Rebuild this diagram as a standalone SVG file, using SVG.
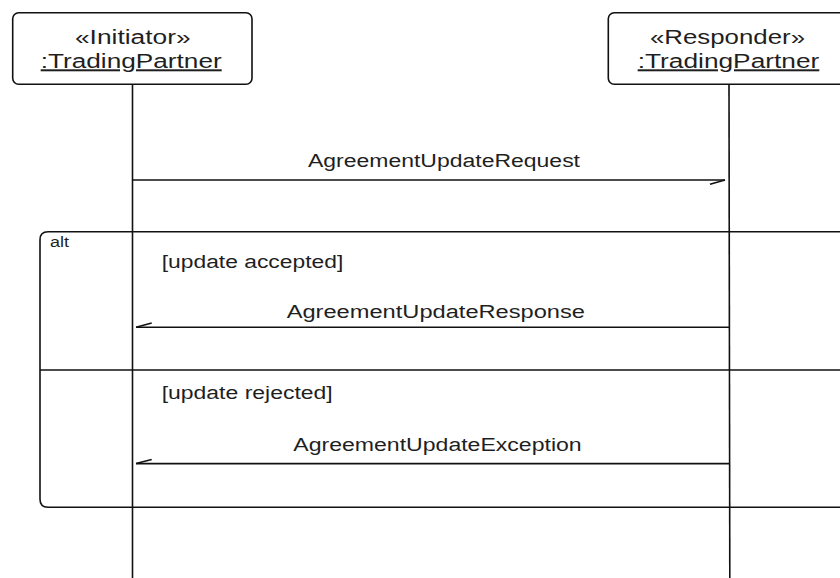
<svg xmlns="http://www.w3.org/2000/svg" width="840" height="578" viewBox="0 0 840 578">
  <style>
    .box { fill: #fff; stroke: #111; stroke-width: 1.6; }
    .life { stroke: #111; stroke-width: 1.6; fill: none; }
    .msg { stroke: #111; stroke-width: 1.6; fill: none; }
    .frame { fill: none; stroke: #111; stroke-width: 1.6; }
    .t { font-family: "Liberation Sans", Arial, sans-serif; fill: #1f1f1f; }
    .head { font-size: 20px; text-anchor: middle; }
    .lbl { font-size: 18px; }
    .small { font-size: 14px; }
  </style>
  <rect width="840" height="578" fill="#fff"/>

  <g id="lifelines">
    <line class="life" x1="132.5" y1="84" x2="132.5" y2="578"/>
    <line class="life" x1="729" y1="84" x2="729.8" y2="578"/>
  </g>

  <g id="initiator">
    <rect class="box" x="12.7" y="12.7" width="239.3" height="71.6" rx="6"/>
    <text class="t head" x="132.8" y="44.3" textLength="115.7" lengthAdjust="spacingAndGlyphs">«Initiator»</text>
    <text class="t head" x="131.2" y="68.3" textLength="181" lengthAdjust="spacingAndGlyphs" text-decoration="underline">:TradingPartner</text>
  </g>

  <g id="responder">
    <rect class="box" x="608.3" y="12.7" width="240.4" height="71.6" rx="6"/>
    <text class="t head" x="727.5" y="44.3" textLength="155" lengthAdjust="spacingAndGlyphs">«Responder»</text>
    <text class="t head" x="728.5" y="68.3" textLength="181.6" lengthAdjust="spacingAndGlyphs" text-decoration="underline">:TradingPartner</text>
  </g>

  <g id="alt-fragment">
    <path class="frame" d="M 850 231.7 H 48 Q 40 231.7 40 239.7 V 499.3 Q 40 507.3 48 507.3 H 850"/>
    <line class="frame" x1="40" y1="370" x2="840" y2="370"/>
    <text class="t small" x="50" y="246.7" textLength="19" lengthAdjust="spacingAndGlyphs">alt</text>
    <text class="t lbl" x="161.7" y="268.3" textLength="181.6" lengthAdjust="spacingAndGlyphs">[update accepted]</text>
    <text class="t lbl" x="161.7" y="399.3" textLength="171" lengthAdjust="spacingAndGlyphs">[update rejected]</text>
  </g>

  <g id="connectors">
    <g id="msg-request">
      <line class="msg" x1="132.5" y1="180" x2="725" y2="180"/>
      <line class="msg" x1="725" y1="180" x2="710" y2="184.3"/>
      <text class="t lbl" x="308" y="166.7" textLength="272" lengthAdjust="spacingAndGlyphs">AgreementUpdateRequest</text>
    </g>
    <g id="msg-response">
      <line class="msg" x1="729" y1="327.3" x2="136" y2="327.3"/>
      <line class="msg" x1="136" y1="327.3" x2="151.7" y2="323"/>
      <text class="t lbl" x="286.7" y="317.5" textLength="298.3" lengthAdjust="spacingAndGlyphs">AgreementUpdateResponse</text>
    </g>
    <g id="msg-exception">
      <line class="msg" x1="729.5" y1="463.6" x2="136" y2="463.6"/>
      <line class="msg" x1="136" y1="463.6" x2="151.7" y2="459.4"/>
      <text class="t lbl" x="293.3" y="451" textLength="288.4" lengthAdjust="spacingAndGlyphs">AgreementUpdateException</text>
    </g>
  </g>
</svg>
